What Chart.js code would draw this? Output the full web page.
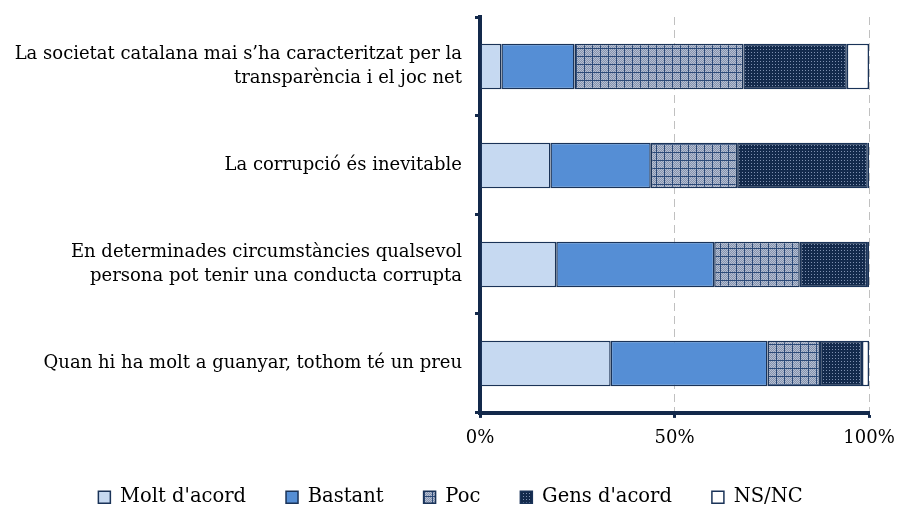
<!DOCTYPE html>
<html>
<head>
<meta charset="utf-8">
<script src="https://cdn.jsdelivr.net/npm/chart.js@4"></script>
<style>
  html, body { margin: 0; padding: 0; background: #fff; }
  #wrap { width: 901px; height: 511px; }
</style>
</head>
<body>
<div id="wrap"><canvas id="chart" width="901" height="511"></canvas></div>
<script>
const categories = [
  ["La societat catalana mai s’ha caracteritzat per la", "transparència i el joc net"],
  "La corrupció és inevitable",
  ["En determinades circumstàncies qualsevol", "persona pot tenir una conducta corrupta"],
  "Quan hi ha molt a guanyar, tothom té un preu"
];
const seriesNames = ["Molt d'acord", "Bastant", "Poc", "Gens d'acord", "NS/NC"];
const moltAcord = [5.5, 18.1, 19.6, 33.6];
const bastant   = [18.8, 25.8, 40.6, 40.3];
const poc       = [43.4, 22.2, 22.0, 13.5];
const gens      = [26.6, 33.6, 17.3, 10.8];
const nsnc      = [5.7, 0.3, 0.5, 1.8];
const xTicks = [0, 50, 100];

const NAVY = '#13294b';
const FONT = '"DejaVu Serif", serif';

// hatched fills
function makePoc(){
  const c = document.createElement('canvas');
  c.width = 8; c.height = 8;
  const g = c.getContext('2d');
  g.fillStyle = '#8592ad';
  g.fillRect(0,0,8,8);
  g.fillStyle = '#b4bfd2';
  for(let y=1;y<8;y++) for(let x=1;x<8;x++) if((x+y)%2==0) g.fillRect(x,y,1,1);
  g.fillStyle = '#2c4a78';
  g.fillRect(0,0,8,1);
  g.fillRect(0,0,1,8);
  return g.createPattern(c,'repeat');
}
function makeGens(){
  const c = document.createElement('canvas');
  c.width = 6; c.height = 6;
  const g = c.getContext('2d');
  g.fillStyle = '#132a4c';
  g.fillRect(0,0,6,6);
  g.fillStyle = '#7e90b0';
  g.fillRect(1,1,1,1); g.fillRect(4,1,1,1);
  g.fillRect(1,4,1,1); g.fillRect(4,4,1,1);
  return g.createPattern(c,'repeat');
}

const fills = ['#c6d9f1', '#558ed5', makePoc(), makeGens(), '#ffffff'];
const values = [moltAcord, bastant, poc, gens, nsnc];

const ctx = document.getElementById('chart').getContext('2d');
new Chart(ctx, {
  type: 'bar',
  data: {
    labels: categories,
    datasets: seriesNames.map((name,i)=>({
      label: name,
      data: values[i],
      backgroundColor: fills[i],
      borderColor: '#1a3358',
      borderWidth: 1.5,
      borderSkipped: false,
      categoryPercentage: 0.46,
      barPercentage: 1
    }))
  },
  options: {
    indexAxis: 'y',
    responsive: false,
    animation: false,
    layout: { padding: { top: 17, right: 0, left: 0, bottom: -6 } },
    plugins: {
      tooltip: { enabled: false },
      legend: {
        position: 'bottom',
        align: 'center',
        labels: {
          boxWidth: 12,
          boxHeight: 12,
          padding: 40,
          color: '#000',
          font: { family: FONT, size: 19.5 }
        }
      }
    },
    scales: {
      x: {
        stacked: true,
        min: 0,
        max: 100,
        afterBuildTicks: (s)=>{ s.ticks = xTicks.map(v=>({value:v})); },
        afterFit: (s)=>{ s.height -= 12; s.paddingLeft = 0; s.paddingRight = 32; },
        border: { display: true, color: NAVY, width: 4, dash: [8,5] },
        grid: {
          color: (c)=> c.tick && c.tick.value === 0 ? 'rgba(0,0,0,0)' : '#c0c0c0',
          tickColor: NAVY,
          tickWidth: 3,
          tickLength: 5,
          tickBorderDash: []
        },
        ticks: {
          color: '#000',
          padding: 10,
          font: { family: FONT, size: 18 },
          callback: (v)=> v + '%'
        }
      },
      y: {
        stacked: true,
        afterFit: (s)=>{ s.width = 480; s.paddingTop = 0; s.paddingBottom = 0; },
        border: { display: true, color: NAVY, width: 4 },
        grid: {
          offset: true,
          drawOnChartArea: false,
          tickColor: NAVY,
          tickWidth: 3,
          tickLength: 5
        },
        ticks: {
          color: '#000',
          padding: 13,
          font: { family: FONT, size: 18, lineHeight: 1.35 }
        }
      }
    }
  }
});
</script>
</body>
</html>
